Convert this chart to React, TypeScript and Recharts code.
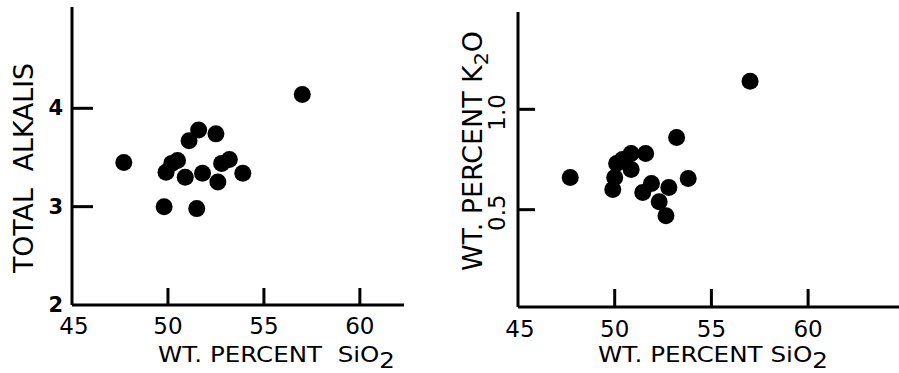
import { ScatterChart, Scatter, XAxis, YAxis } from 'recharts';

// left panel: total alkalis vs SiO2
const alkaliSiO2 = [47.7, 49.8, 49.9, 50.2, 50.5, 50.9, 51.1, 51.5, 51.6, 51.8, 52.5, 52.6, 52.8, 53.2, 53.9, 57.0];
const totalAlkalis = [3.45, 3.0, 3.35, 3.44, 3.47, 3.3, 3.67, 2.98, 3.78, 3.34, 3.74, 3.25, 3.44, 3.48, 3.34, 4.14];

// right panel: K2O vs SiO2
const potashSiO2 = [47.7, 49.9, 50.0, 50.1, 50.4, 50.85, 50.85, 51.45, 51.6, 51.9, 52.3, 52.65, 52.8, 53.2, 53.8, 57.0];
const k2o = [0.66, 0.6, 0.66, 0.73, 0.75, 0.78, 0.7, 0.585, 0.78, 0.63, 0.54, 0.47, 0.61, 0.86, 0.655, 1.14];

const siTicks = [45, 50, 55, 60];
const alkaliTicks = [2, 3, 4];
const k2oTicks = [0.5, 1.0];

const leftData = alkaliSiO2.map((x, i) => ({ x, y: totalAlkalis[i] }));
const rightData = potashSiO2.map((x, i) => ({ x, y: k2o[i] }));

// inward tick marks, placed through the chart scales (the corner ticks are skipped)
const leftXMarks = siTicks.slice(1).map((x) => ({ x, y: alkaliTicks[0] }));
const leftYMarks = alkaliTicks.slice(1).map((y) => ({ x: siTicks[0], y }));
const rightXMarks = siTicks.slice(1).map((x) => ({ x, y: 0.015 }));
const rightYMarks = k2oTicks.map((y) => ({ x: siTicks[0], y }));

const FONT = '"DejaVu Sans", Verdana, sans-serif';
const INK = '#000';

const dot = (p: any) => <circle cx={p.cx} cy={p.cy} r={8.5} fill={INK} />;
const upMark = (len: number) => (p: any) => (
  <path d={`M${p.cx},${p.cy} V${p.cy - len}`} stroke={INK} strokeWidth={3} />
);
const rightMark = (len: number) => (p: any) => (
  <path d={`M${p.cx},${p.cy} H${p.cx + len}`} stroke={INK} strokeWidth={3} />
);

const XTick = ({ x, y, payload, dy }: any) => (
  <text
    x={x + (payload.value === 45 ? 2 : 0)}
    y={y + dy}
    textAnchor="middle"
    fill={INK}
    fontSize={23}
    fontFamily={FONT}
  >
    {payload.value}
  </text>
);

const AlkaliTick = ({ x, y, payload }: any) => (
  <text x={x - 9} y={y + 7} textAnchor="end" fill={INK} fontSize={21} fontWeight="bold" fontFamily={FONT}>
    {payload.value}
  </text>
);

const PotashTick = ({ x, y, payload }: any) => {
  const cx = x - 13;
  return (
    <text
      x={cx}
      y={y + 3}
      textAnchor="middle"
      transform={`rotate(-90 ${cx} ${y + 3})`}
      fill={INK}
      fontSize={23}
      fontFamily={FONT}
    >
      {payload.value.toFixed(1)}
    </text>
  );
};

const axisLine = { stroke: INK, strokeWidth: 3 };

export default function App() {
  return (
    <div style={{ position: 'absolute', left: 0, top: 0, width: 899, height: 373, background: '#fff' }}>
      <div style={{ position: 'absolute', left: 0, top: 0 }}>
        <ScatterChart width={450} height={373} margin={{ top: 7, right: 46, bottom: 67, left: 71 }}>
          <XAxis
            type="number"
            dataKey="x"
            domain={[45, 62.3]}
            ticks={siTicks}
            interval={0}
            height={1}
            tickSize={0}
            tickMargin={0}
            tickLine={false}
            axisLine={axisLine}
            tick={(p: any) => <XTick {...p} dy={29} />}
          />
          <YAxis
            type="number"
            dataKey="y"
            domain={[2, 5.03]}
            ticks={alkaliTicks}
            interval={0}
            width={1}
            tickSize={0}
            tickMargin={0}
            tickLine={false}
            axisLine={axisLine}
            tick={(p: any) => <AlkaliTick {...p} />}
          />
          <Scatter data={leftXMarks} isAnimationActive={false} shape={upMark(17)} />
          <Scatter data={leftYMarks} isAnimationActive={false} shape={rightMark(21)} />
          <Scatter data={leftData} isAnimationActive={false} shape={dot} />
          <text
            x={33}
            y={168}
            textAnchor="middle"
            transform="rotate(-90 33 168)"
            fontSize={26}
            fontFamily={FONT}
            fill={INK}
            textLength={210}
            lengthAdjust="spacingAndGlyphs"
            style={{ whiteSpace: 'pre' }}
          >
            TOTAL  ALKALIS
          </text>
          <text
            x={158}
            y={362}
            fontSize={22}
            fontFamily={FONT}
            fill={INK}
            textLength={237}
            lengthAdjust="spacingAndGlyphs"
            style={{ whiteSpace: 'pre' }}
          >
            WT. PERCENT  SiO<tspan dy={6}>2</tspan>
          </text>
        </ScatterChart>
      </div>
      <div style={{ position: 'absolute', left: 450, top: 0 }}>
        <ScatterChart width={449} height={373} margin={{ top: 12, right: 0, bottom: 65, left: 67 }}>
          <XAxis
            type="number"
            dataKey="x"
            domain={[45, 64.7]}
            ticks={siTicks}
            interval={0}
            height={1}
            tickSize={0}
            tickMargin={0}
            tickLine={false}
            axisLine={axisLine}
            tick={(p: any) => <XTick {...p} dy={30} />}
          />
          <YAxis
            type="number"
            dataKey="y"
            domain={[0.015, 1.485]}
            ticks={k2oTicks}
            interval={0}
            width={1}
            tickSize={0}
            tickMargin={0}
            tickLine={false}
            axisLine={axisLine}
            tick={(p: any) => <PotashTick {...p} />}
          />
          <Scatter data={rightXMarks} isAnimationActive={false} shape={upMark(18)} />
          <Scatter data={rightYMarks} isAnimationActive={false} shape={rightMark(17)} />
          <Scatter data={rightData} isAnimationActive={false} shape={dot} />
          <text
            x={32}
            y={151}
            textAnchor="middle"
            transform="rotate(-90 32 151)"
            fontSize={26}
            fontFamily={FONT}
            fill={INK}
            textLength={240}
            lengthAdjust="spacingAndGlyphs"
          >
            WT. PERCENT K<tspan dy={6} fontSize={20}>2</tspan><tspan dy={-6}>O</tspan>
          </text>
          <text
            x={148}
            y={362}
            fontSize={22}
            fontFamily={FONT}
            fill={INK}
            textLength={230}
            lengthAdjust="spacingAndGlyphs"
            style={{ whiteSpace: 'pre' }}
          >
            WT. PERCENT SiO<tspan dy={6}>2</tspan>
          </text>
        </ScatterChart>
      </div>
    </div>
  );
}
